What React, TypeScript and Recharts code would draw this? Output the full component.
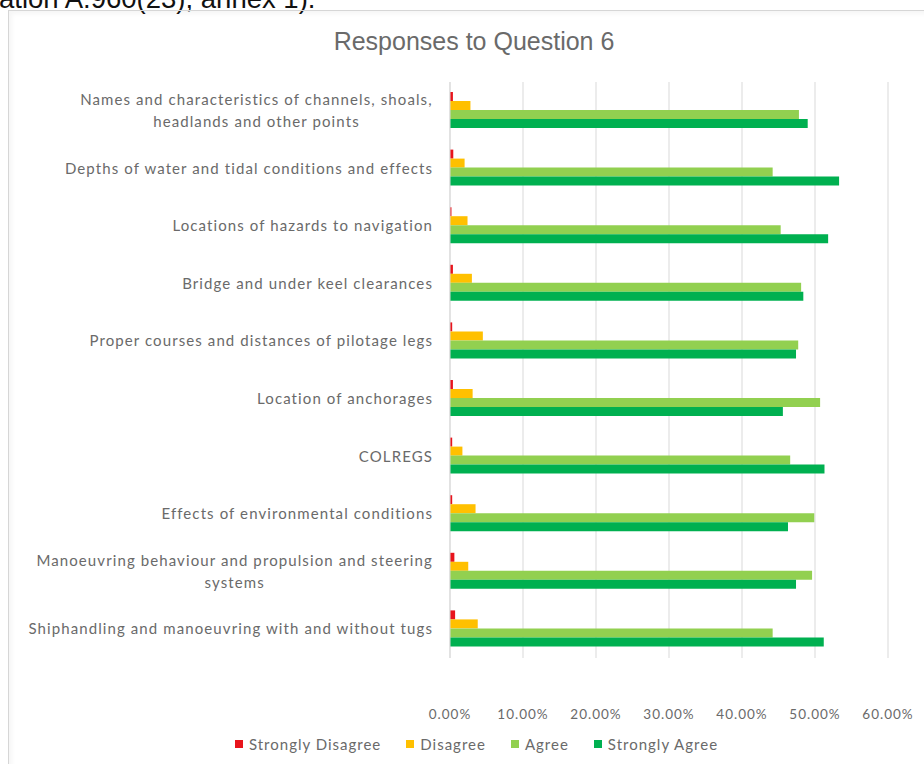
import React from 'react'
import { BarChart, Bar, XAxis, YAxis, CartesianGrid, Legend } from 'recharts'

const categories = [
  'Names and characteristics of channels, shoals,\nheadlands and other points',
  'Depths of water and tidal conditions and effects',
  'Locations of hazards to navigation',
  'Bridge and under keel clearances',
  'Proper courses and distances of pilotage legs',
  'Location of anchorages',
  'COLREGS',
  'Effects of environmental conditions',
  'Manoeuvring behaviour and propulsion and steering\nsystems',
  'Shiphandling and manoeuvring with and without tugs',
]

const stronglyDisagree = [0.4, 0.45, 0.2, 0.4, 0.3, 0.4, 0.3, 0.3, 0.6, 0.7]
const disagree = [2.8, 2.0, 2.4, 3.0, 4.5, 3.1, 1.7, 3.5, 2.5, 3.8]
const agree = [47.8, 44.2, 45.3, 48.1, 47.7, 50.7, 46.6, 49.9, 49.6, 44.2]
const stronglyAgree = [49.0, 53.3, 51.8, 48.4, 47.4, 45.6, 51.3, 46.3, 47.4, 51.2]

const xTicks = [0, 10, 20, 30, 40, 50, 60]

const series = [
  { key: 'sd', name: 'Strongly Disagree', color: '#E8141C' },
  { key: 'd', name: 'Disagree', color: '#FFC000' },
  { key: 'a', name: 'Agree', color: '#92D050' },
  { key: 'sa', name: 'Strongly Agree', color: '#00B050' },
]

const data = categories.map((name, i) => ({
  name,
  sd: stronglyDisagree[i],
  d: disagree[i],
  a: agree[i],
  sa: stronglyAgree[i],
}))

const FONT = 'Lato, "Open Sans", sans-serif'
const LABEL_SIZE = 15
const LABEL_LS = 1.1
const GREY = '#6a6a6a'

let ctx: CanvasRenderingContext2D | null = null
function measure(s: string) {
  if (!ctx) ctx = document.createElement('canvas').getContext('2d')
  if (!ctx) return s.length * 7.7
  ctx.font = `${LABEL_SIZE}px Lato`
  return ctx.measureText(s).width + s.length * LABEL_LS
}

function CategoryTick(props: any) {
  const { x, y, payload } = props
  const lines: string[] = String(payload.value).split('\n')
  if (lines.length === 1) {
    return (
      <text x={x} y={y} dy="0.35em" textAnchor="end" fontFamily={FONT} fontSize={LABEL_SIZE} letterSpacing={LABEL_LS} fill={GREY}>
        {lines[0]}
      </text>
    )
  }
  const w = Math.max(...lines.map(measure))
  const cx = x - w / 2
  const lh = 22
  const start = y - ((lines.length - 1) * lh) / 2
  return (
    <text textAnchor="middle" fontFamily={FONT} fontSize={LABEL_SIZE} letterSpacing={LABEL_LS} fill={GREY}>
      {lines.map((l, i) => (
        <tspan key={i} x={cx} y={start + i * lh} dy="0.35em">
          {l}
        </tspan>
      ))}
    </text>
  )
}

function LegendContent() {
  return (
    <div style={{ display: 'flex', justifyContent: 'center', paddingLeft: 54 }}>
      {series.map((s) => (
        <div key={s.key} style={{ display: 'flex', alignItems: 'center', marginRight: 25 }}>
          <span style={{ width: 8, height: 8, background: s.color, display: 'inline-block', marginRight: 6 }} />
          <span style={{ fontFamily: FONT, fontSize: 15, letterSpacing: 1, color: GREY }}>{s.name}</span>
        </div>
      ))}
    </div>
  )
}

export default function App() {
  return (
    <div style={{ position: 'absolute', left: 0, top: 0, width: 924, height: 764, overflow: 'hidden', background: '#fff' }}>
      <div
        style={{
          position: 'absolute',
          left: -1,
          top: -17,
          fontFamily: '"Liberation Sans", Arial, sans-serif',
          fontSize: 27.5,
          color: '#111',
          whiteSpace: 'nowrap',
        }}
      >
        ation A.960(23), annex 1).
      </div>
      <div
        style={{
          position: 'absolute',
          left: 8,
          top: 10,
          width: 940,
          height: 780,
          border: '1px solid #d6d6d6',
          boxShadow: 'inset 3px 3px 4px rgba(0,0,0,0.04)',
        }}
      />
      <div
        style={{
          position: 'absolute',
          left: 0,
          top: 27,
          width: 948,
          textAlign: 'center',
          fontFamily: '"Liberation Sans", Arial, sans-serif',
          fontSize: 25,
          color: GREY,
        }}
      >
        Responses to Question 6
      </div>
      <div style={{ position: 'absolute', left: 0, top: 0 }}>
        <BarChart
          width={924}
          height={764}
          data={data}
          layout="vertical"
          margin={{ top: 82, right: 36, bottom: 48, left: 0 }}
          barCategoryGap={10}
          barGap={0}
        >
          <CartesianGrid horizontal={false} stroke="#d9d9d9" />
          <XAxis
            type="number"
            domain={[0, 60]}
            ticks={xTicks}
            tickFormatter={(v: number) => `${v.toFixed(2)}%`}
            axisLine={false}
            tickLine={false}
            tickSize={0}
            tickMargin={51}
            height={40}
            tick={{ fontFamily: FONT, fontSize: 13.5, letterSpacing: 1, fill: GREY }}
            interval={0}
          />
          <YAxis
            type="category"
            dataKey="name"
            width={450}
            axisLine={{ stroke: '#d9d9d9' }}
            tickLine={false}
            tickSize={0}
            tickMargin={17}
            tick={<CategoryTick />}
            interval={0}
          />
          <Legend
            content={<LegendContent />}
            wrapperStyle={{ position: 'absolute', top: 735, left: 0, width: 924 }}
          />
          {series.map((s) => (
            <Bar key={s.key} dataKey={s.key} name={s.name} fill={s.color} isAnimationActive={false} />
          ))}
        </BarChart>
      </div>
    </div>
  )
}
